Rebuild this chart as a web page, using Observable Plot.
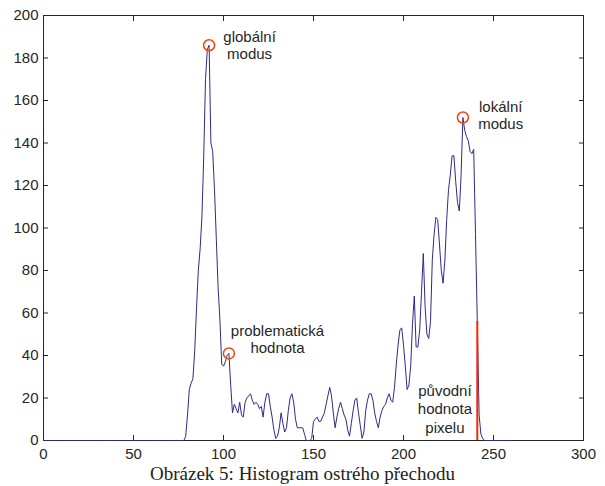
<!DOCTYPE html>
<html>
<head>
<meta charset="utf-8">
<script src="https://cdn.jsdelivr.net/npm/d3@7"></script>
<script src="https://cdn.jsdelivr.net/npm/@observablehq/plot@0.6"></script>
<style>
  body { margin: 0; background: #fff; }
  #chart { width: 605px; height: 462px; }
  #chart svg { display: block; }
  #caption { font-family: "Liberation Serif", "DejaVu Serif", serif; font-size: 19px; color: #222; text-align: center; width: 605px; margin-top: 2px; line-height: 20px; }
</style>
</head>
<body>
<div id="chart"></div>
<div id="caption">Obrázek 5: Histogram ostrého přechodu</div>
<script>
// Histogram counts, bins 0..259
const counts = [
  0,0,0,0,0,0,0,0,0,0, 0,0,0,0,0,0,0,0,0,0,
  0,0,0,0,0,0,0,0,0,0, 0,0,0,0,0,0,0,0,0,0,
  0,0,0,0,0,0,0,0,0,0, 0,0,0,0,0,0,0,0,0,0,
  0,0,0,0,0,0,0,0,0,0, 0,0,0,0,0,0,0,0,0,2,
  12,24,27,29,42,62,80,90,105,133, 170,184,186,140,136,118,95,72,57,36,
  35,37,40,41,26,13,17,15,13,18, 12,11,18,20,21,22,19,17,18,17,
  15,16,11,18,22,22,16,11,5,1, 2,6,13,8,4,6,14,20,22,18,
  10,6,6,6,6,3,0,0,0,1, 9,10,11,9,9,11,13,17,21,25,
  21,13,6,11,15,18,15,12,10,5, 2,8,14,19,20,13,7,1,4,14,
  19,22,22,19,13,9,6,11,14,16, 17,20,22,19,18,25,36,45,52,53,
  45,35,24,26,35,55,68,44,44,52, 70,88,63,50,48,56,85,97,105,104,
  92,80,74,85,104,118,125,134,134,122, 112,108,125,152,146,143,141,136,135,137,
  97,56,12,3,1,0,0,0,0,0, 0,0,0,0,0,0,0,0,0,0
];
const xTicks = [0, 50, 100, 150, 200, 250, 300];
const yTicks = [0, 20, 40, 60, 80, 100, 120, 140, 160, 180, 200];

// marked modes
const modeX = [92, 103, 233];
const modeY = [186, 41, 152];

// original pixel value marker
const origX = [241];
const origY = [56];

// annotation labels
const labelText = ["globální\nmodus", "problematická\nhodnota", "lokální\nmodus"];
const labelX = [114.5, 130, 254];
const labelY = [193, 54.5, 160];
const pixelLabelText = ["původní\nhodnota\npixelu"];
const pixelLabelX = [223];
const pixelLabelY = [27];

const hist = counts.map((c, i) => ({bin: i, count: c}));
const modes = modeX.map((x, i) => ({x, y: modeY[i]}));
const orig = origX.map((x, i) => ({x, y: origY[i]}));
const labels = labelText.map((t, i) => ({t, x: labelX[i], y: labelY[i]}));
const pixelLabels = pixelLabelText.map((t, i) => ({t, x: pixelLabelX[i], y: pixelLabelY[i]}));

const ink = "#262626";
const chart = Plot.plot({
  width: 605,
  height: 462,
  marginLeft: 43,
  marginRight: 22,
  marginTop: 15,
  marginBottom: 22,
  style: {fontFamily: "'Liberation Sans', Arial, sans-serif", fontSize: "15px", color: ink, background: "#fff"},
  x: {domain: [0, 300], label: null},
  y: {domain: [0, 200], label: null},
  marks: [
    Plot.frame({stroke: ink, strokeWidth: 1}),
    Plot.axisX({ticks: xTicks, anchor: "bottom", tickSize: -5, tickPadding: 13, label: null, stroke: ink, fill: ink, fontSize: 15}),
    Plot.axisX({ticks: xTicks, anchor: "top", tickSize: -5, tickFormat: () => "", label: null, stroke: ink}),
    Plot.axisY({ticks: yTicks, anchor: "left", tickSize: -5, tickPadding: 10, label: null, stroke: ink, fill: ink, fontSize: 15}),
    Plot.axisY({ticks: yTicks, anchor: "right", tickSize: -5, tickFormat: () => "", label: null, stroke: ink}),
    Plot.line(hist, {x: "bin", y: "count", stroke: "#2e2a8c", strokeWidth: 1}),
    Plot.ruleX(orig, {x: "x", y1: 0, y2: "y", stroke: "#f52a05", strokeWidth: 2}),
    Plot.dot(modes, {x: "x", y: "y", r: 5.5, stroke: "#f0460f", strokeWidth: 1.5, fill: "none"}),
    Plot.text(labels, {x: "x", y: "y", text: "t", textAnchor: "middle", lineAnchor: "top", lineHeight: 1.1, fill: ink, fontSize: 15}),
    Plot.text(pixelLabels, {x: "x", y: "y", text: "t", textAnchor: "middle", lineAnchor: "top", lineHeight: 1.22, fill: ink, fontSize: 15})
  ]
});
document.getElementById("chart").appendChild(chart);
</script>
</body>
</html>
